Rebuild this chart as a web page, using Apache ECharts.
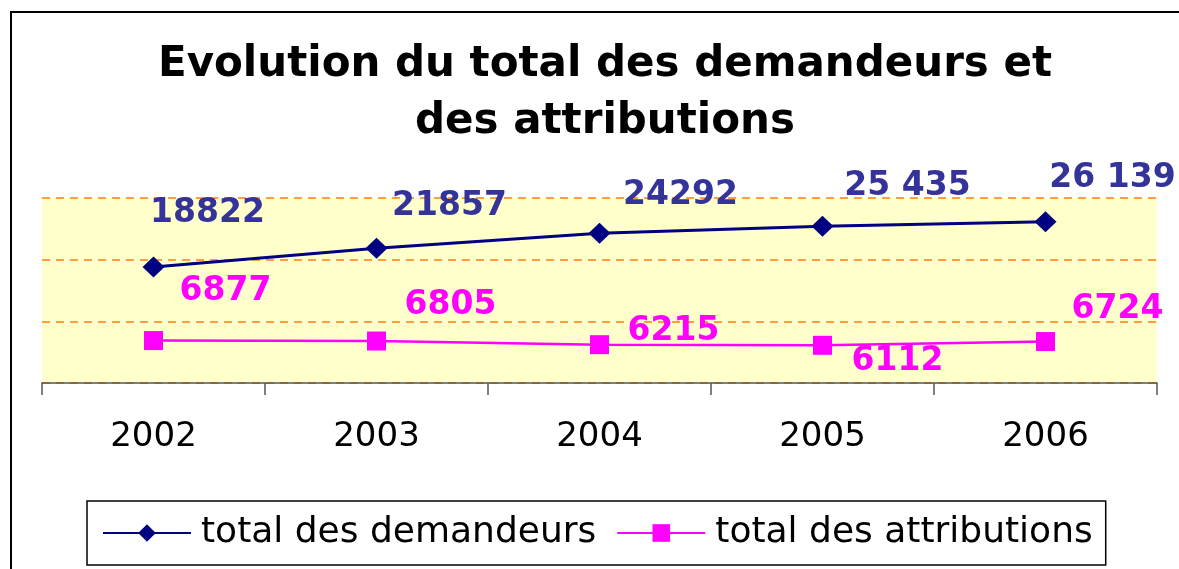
<!DOCTYPE html>
<html lang="fr">
<head>
    <meta charset="UTF-8">
    <title>Evolution du total des demandeurs et des attributions</title>
    <script src="https://cdn.jsdelivr.net/npm/echarts@6/dist/echarts.min.js"></script>
</head>
<body style="margin:0;background:#fff;">
<div id="main" style="width:1179px;height:569px;"></div>
<script type="text/javascript">
    // données
    var annees = ['2002', '2003', '2004', '2005', '2006'];
    var demandeurs = [18822, 21857, 24292, 25435, 26139];
    var attributions = [6877, 6805, 6215, 6112, 6724];
    var etiquettesDem = ['18822', '21857', '24292', '25 435', '26 139'];
    var etiquettesAttr = ['6877', '6805', '6215', '6112', '6724'];

    // décalage des étiquettes par rapport aux points (comme dans Excel)
    var decalDem = [[54, -54], [73, -42], [81, -38], [85, -40], [67, -43]];
    var decalAttr = [[72, -49], [74, -36], [74, -13], [75, 16], [72, -32]];

    var police = 'DejaVu Sans, Verdana, sans-serif';

    function points(valeurs, textes, decal) {
        var res = [];
        for (var i = 0; i < valeurs.length; i++) {
            res.push({
                value: valeurs[i],
                label: { offset: decal[i], formatter: textes[i] }
            });
        }
        return res;
    }

    var myChart = echarts.init(document.getElementById('main'));
    myChart.setOption({
        backgroundColor: '#ffffff',
        animation: false,
        textStyle: { fontFamily: police },
        title: {
            text: 'Evolution du total des demandeurs et\ndes attributions',
            left: 600,
            textAlign: 'center',
            top: 32,
            textStyle: {
                fontSize: 42,
                fontWeight: 'bold',
                color: '#000',
                lineHeight: 57,
                fontFamily: police
            }
        },
        graphic: [{
            type: 'rect',
            shape: { x: 11, y: 12, width: 1400, height: 800 },
            style: { fill: 'none', stroke: '#000', lineWidth: 2 },
            silent: true
        }],
        legend: {
            left: 87,
            top: 501,
            padding: [14, 13, 14, 15],
            borderColor: '#000',
            borderWidth: 1.5,
            itemWidth: 88,
            itemHeight: 22,
            itemGap: 20,
            textStyle: { fontSize: 36, color: '#000', fontFamily: police, padding: [0, 0, 0, 5] },
            data: ['total des demandeurs', 'total des attributions']
        },
        grid: {
            left: 42,
            right: 22,
            top: 198,
            bottom: 186,
            show: true,
            backgroundColor: '#FFFFCC',
            borderWidth: 0
        },
        xAxis: {
            type: 'category',
            data: annees,
            boundaryGap: true,
            axisLine: { lineStyle: { color: '#555', width: 1.5 } },
            axisTick: { show: true, length: 12, inside: false, lineStyle: { color: '#555', width: 1.5 } },
            axisLabel: { fontSize: 34, color: '#000', margin: 37, fontFamily: police }
        },
        yAxis: {
            type: 'value',
            min: 0,
            max: 30000,
            interval: 10000,
            axisLine: { show: false },
            axisTick: { show: false },
            axisLabel: { show: false },
            splitLine: { show: true, lineStyle: { color: '#FF7F0F', type: [8, 6], width: 1.5 } }
        },
        series: [
            {
                name: 'total des demandeurs',
                type: 'line',
                data: points(demandeurs, etiquettesDem, decalDem),
                symbol: 'diamond',
                symbolSize: [22, 21],
                lineStyle: { color: '#000080', width: 3 },
                itemStyle: { color: '#000080' },
                label: {
                    show: true,
                    position: 'inside',
                    fontSize: 33,
                    fontWeight: 'bold',
                    fontFamily: police,
                    color: '#333399',
                    align: 'center',
                    verticalAlign: 'middle'
                }
            },
            {
                name: 'total des attributions',
                type: 'line',
                data: points(attributions, etiquettesAttr, decalAttr),
                symbol: 'rect',
                symbolSize: 19,
                lineStyle: { color: '#FF00FF', width: 2.5 },
                itemStyle: { color: '#FF00FF' },
                label: {
                    show: true,
                    position: 'inside',
                    fontSize: 33,
                    fontWeight: 'bold',
                    fontFamily: police,
                    color: '#FF00FF',
                    align: 'center',
                    verticalAlign: 'middle'
                }
            }
        ]
    });
</script>
</body>
</html>
